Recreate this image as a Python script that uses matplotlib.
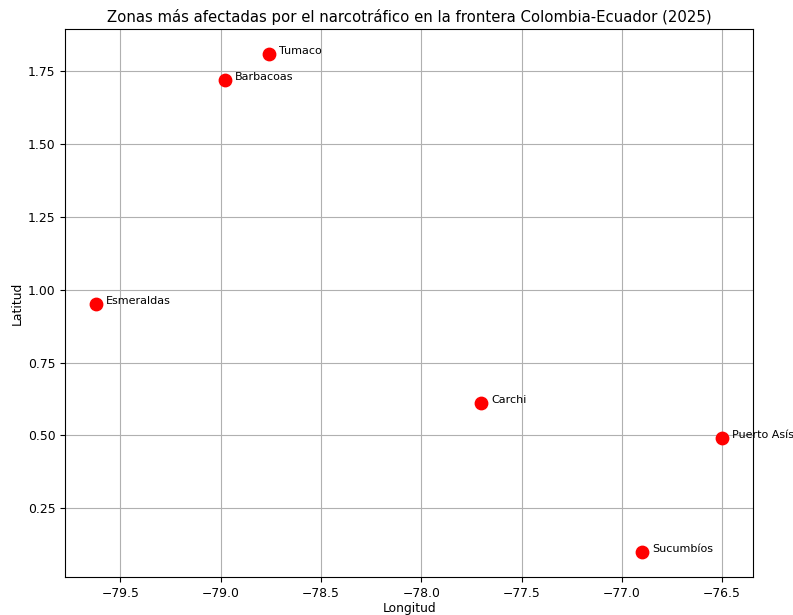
import matplotlib
matplotlib.use("Agg")
import matplotlib.pyplot as plt

zonas = ["Tumaco", "Barbacoas", "Esmeraldas", "Carchi", "Puerto Asís", "Sucumbíos"]
longitudes = [-78.76, -78.98, -79.62, -77.70, -76.50, -76.90]
latitudes = [1.81, 1.72, 0.95, 0.61, 0.49, 0.10]

plt.rcParams["font.size"] = 8.9
plt.rcParams["axes.labelpad"] = 3
fig, ax = plt.subplots(figsize=(7.93, 6.15), dpi=100)
ax.scatter(longitudes, latitudes, c="red", s=80, zorder=3)
for name, lon, lat in zip(zonas, longitudes, latitudes):
    ax.text(lon + 0.05, lat, name, fontsize=8)
ax.set_title("Zonas más afectadas por el narcotráfico en la frontera Colombia-Ecuador (2025)", fontsize=10.7, pad=5)
ax.set_xlabel("Longitud", labelpad=2)
ax.set_ylabel("Latitud")
ax.grid(True)
fig.subplots_adjust(left=0.082, right=0.95, top=0.953, bottom=0.062)
fig.savefig("out.png", dpi=100)
